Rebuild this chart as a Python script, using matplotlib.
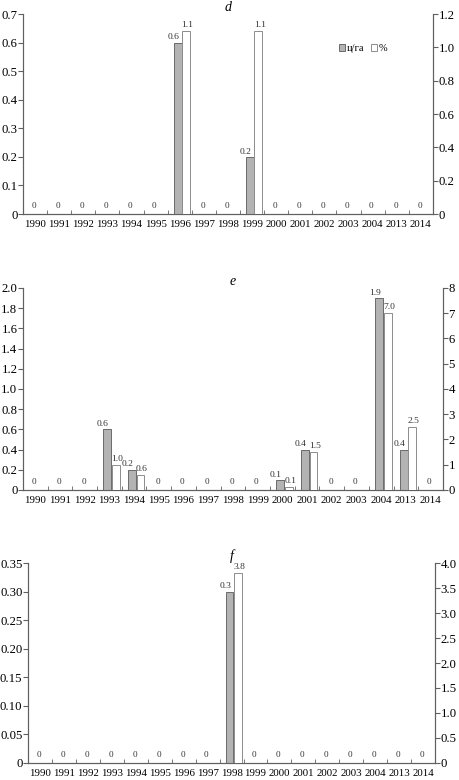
import matplotlib
matplotlib.use("Agg")
import matplotlib.pyplot as plt
import numpy as np

years = ["1990", "1991", "1992", "1993", "1994", "1995", "1996", "1997", "1998",
         "1999", "2000", "2001", "2002", "2003", "2004", "2013", "2014"]

# panel d
d_yield = [0, 0, 0, 0, 0, 0, 0.6, 0, 0, 0.2, 0, 0, 0, 0, 0, 0, 0]
d_pct = [0, 0, 0, 0, 0, 0, 1.1, 0, 0, 1.1, 0, 0, 0, 0, 0, 0, 0]
# panel e
e_yield = [0, 0, 0, 0.6, 0.2, 0, 0, 0, 0, 0, 0.1, 0.4, 0, 0, 1.9, 0.4, 0]
e_pct = [0, 0, 0, 1.0, 0.6, 0, 0, 0, 0, 0, 0.1, 1.5, 0, 0, 7.0, 2.5, 0]
# panel f
f_yield = [0, 0, 0, 0, 0, 0, 0, 0, 0.3, 0, 0, 0, 0, 0, 0, 0, 0]
f_pct = [0, 0, 0, 0, 0, 0, 0, 0, 3.8, 0, 0, 0, 0, 0, 0, 0, 0]

panels = [
    ("d", d_yield, d_pct, [0, 0.1, 0.2, 0.3, 0.4, 0.5, 0.6, 0.7],
     ["0", "0.1", "0.2", "0.3", "0.4", "0.5", "0.6", "0.7"],
     [0, 0.2, 0.4, 0.6, 0.8, 1.0, 1.2],
     ["0", "0.2", "0.4", "0.6", "0.8", "1.0", "1.2"],
     [0.050, 0.7256, 0.893, 0.2564]),
    ("e", e_yield, e_pct, [0, 0.2, 0.4, 0.6, 0.8, 1.0, 1.2, 1.4, 1.6, 1.8, 2.0],
     ["0", "0.2", "0.4", "0.6", "0.8", "1.0", "1.2", "1.4", "1.6", "1.8", "2.0"],
     [0, 1, 2, 3, 4, 5, 6, 7, 8],
     ["0", "1", "2", "3", "4", "5", "6", "7", "8"],
     [0.050, 0.3718, 0.915, 0.259]),
    ("f", f_yield, f_pct, [0, 0.05, 0.10, 0.15, 0.20, 0.25, 0.30, 0.35],
     ["0", "0.05", "0.10", "0.15", "0.20", "0.25", "0.30", "0.35"],
     [0, 0.5, 1.0, 1.5, 2.0, 2.5, 3.0, 3.5, 4.0],
     ["0", "0.5", "1.0", "1.5", "2.0", "2.5", "3.0", "3.5", "4.0"],
     [0.061, 0.0218, 0.887, 0.2564]),
]

plt.rcParams["font.family"] = ["Liberation Serif", "DejaVu Serif"]
spine_c = "#606060"
gray_fill = "#b3b3b3"
gray_edge = "#6a6a6a"
white_edge = "#8c8c8c"
lab_c = "#333333"

fig = plt.figure(figsize=(4.59, 7.80), dpi=100)
x = np.arange(len(years))
w = 0.32

for name, yv, pv, lt, ll, rt, rl, rect in panels:
    ax = fig.add_axes(rect)
    ax2 = ax.twinx()
    b1 = ax.bar(x - 0.08, yv, w, color=gray_fill, edgecolor=gray_edge, linewidth=0.7,
                label="ц/га", zorder=3)
    b2 = ax2.bar(x + 0.26, pv, w, color="white", edgecolor=white_edge, linewidth=0.7,
                 label="%", zorder=3)
    ax.set_xlim(-0.5, len(years) - 0.5)
    ax.set_ylim(lt[0], lt[-1])
    ax2.set_ylim(rt[0], rt[-1])
    ax.set_yticks(lt)
    ax.set_yticklabels(ll)
    ax2.set_yticks(rt)
    ax2.set_yticklabels(rl)
    ax.set_xticks(x)
    ax.set_xticklabels(years)
    ax.set_xticks(x[:-1] + 0.5, minor=True)
    ax.tick_params(axis="x", which="major", length=0, labelsize=7.8, pad=4)
    ax.tick_params(axis="x", which="minor", direction="in", length=3, color=spine_c)
    ax.tick_params(axis="y", labelsize=9.2, length=3.5, color=spine_c, pad=0.5)
    ax2.tick_params(axis="y", labelsize=9.2, length=3.5, color=spine_c, pad=0.5)
    for a in (ax, ax2):
        a.spines["top"].set_visible(False)
        for s in ("left", "right", "bottom"):
            a.spines[s].set_color(spine_c)
            a.spines[s].set_linewidth(0.8)
    ax.set_title(name, style="italic", fontsize=10, pad=2)

    for i in range(len(years)):
        if yv[i] == 0 and pv[i] == 0:
            ax.annotate("0", (x[i] - 0.05, 0), xytext=(0, 3), textcoords="offset points",
                        ha="center", va="bottom", fontsize=6.6, color=lab_c)
            continue
        ax.annotate(f"{yv[i]:.1f}", (x[i] - 0.08, yv[i]), xytext=(1, 1),
                    textcoords="offset points", ha="right", va="bottom",
                    fontsize=6.8, color=lab_c)
        ax2.annotate(f"{pv[i]:.1f}", (x[i] + 0.26, pv[i]), xytext=(1, 1.5),
                     textcoords="offset points", ha="center", va="bottom",
                     fontsize=6.8, color=lab_c)

    if name == "d":
        ax.legend([b1, b2], ["ц/га", "%"], ncol=2, frameon=False, fontsize=7.5,
                  handlelength=0.6, handleheight=0.6, handletextpad=0.2,
                  columnspacing=0.6, loc="upper left", bbox_to_anchor=(0.76, 0.87),
                  borderaxespad=0)

fig.savefig("out.png", dpi=100)
